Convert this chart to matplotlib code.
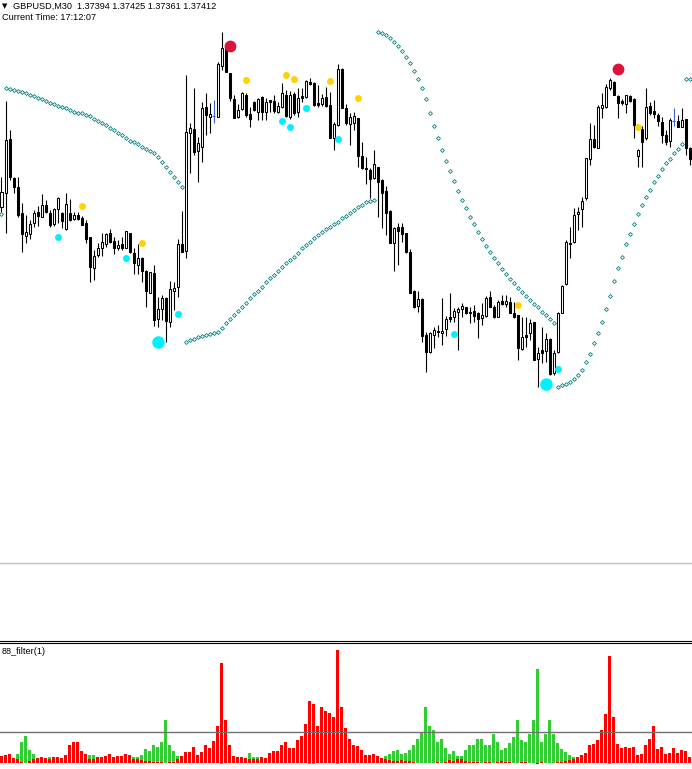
import matplotlib
matplotlib.use("Agg")
import matplotlib.pyplot as plt
from matplotlib.lines import Line2D
import numpy as np

# GBPUSD M30 candles (open, high, low, close)
opens = [1.3693, 1.3707, 1.3761, 1.3722, 1.3713, 1.3687, 1.3664, 1.3666, 1.3677, 1.3688,
         1.3683, 1.3695, 1.3687, 1.3676, 1.3691, 1.3687, 1.3671, 1.3687, 1.3681, 1.3685,
         1.3682, 1.3677, 1.3663, 1.3632, 1.3645, 1.3652, 1.3656, 1.3667, 1.3659, 1.3652,
         1.3656, 1.3652, 1.3667, 1.3647, 1.3635, 1.3642, 1.3629, 1.3607, 1.3627, 1.3581,
         1.3591, 1.3602, 1.3578, 1.3609, 1.3613, 1.3656, 1.3649, 1.3767, 1.3771, 1.3749,
         1.3753, 1.3793, 1.3783, 1.3784, 1.3783, 1.3834, 1.3852, 1.3827, 1.3801, 1.3783,
         1.3791, 1.3805, 1.3786, 1.3798, 1.3788, 1.3803, 1.3788, 1.3800, 1.3799, 1.3788,
         1.3793, 1.3805, 1.3783, 1.3806, 1.3788, 1.3804, 1.3803, 1.3818, 1.3817, 1.3797,
         1.3796, 1.3803, 1.3795, 1.3762, 1.3775, 1.3831, 1.3792, 1.3776, 1.3777, 1.3782,
         1.3744, 1.3732, 1.3730, 1.3722, 1.3733, 1.3720, 1.3709, 1.3689, 1.3657, 1.3673,
         1.3673, 1.3667, 1.3648, 1.3609, 1.3594, 1.3601, 1.3565, 1.3548, 1.3565, 1.3569,
         1.3567, 1.3571, 1.3583, 1.3583, 1.3588, 1.3591, 1.3593, 1.3588, 1.3589, 1.3587,
         1.3582, 1.3584, 1.3603, 1.3593, 1.3583, 1.3599, 1.3596, 1.3598, 1.3587, 1.3585,
         1.3551, 1.3565, 1.3567, 1.3578, 1.3541, 1.3550, 1.3549, 1.3561, 1.3527, 1.3548,
         1.3587, 1.3616, 1.3657, 1.3658, 1.3686, 1.3691, 1.3702, 1.3741, 1.3761, 1.3752,
         1.3792, 1.3793, 1.3812, 1.3818, 1.3804, 1.3799, 1.3796, 1.3804, 1.3801, 1.3744,
         1.3771, 1.3762, 1.3794, 1.3789, 1.3785, 1.3778, 1.3765, 1.3759, 1.3779, 1.3779,
         1.3773, 1.3781, 1.3752]
highs = [1.3723, 1.3799, 1.3770, 1.3723, 1.3723, 1.3697, 1.3685, 1.3680, 1.3690, 1.3694,
         1.3706, 1.3700, 1.3690, 1.3692, 1.3703, 1.3688, 1.3707, 1.3701, 1.3688, 1.3688,
         1.3684, 1.3680, 1.3663, 1.3650, 1.3657, 1.3667, 1.3667, 1.3671, 1.3663, 1.3660,
         1.3663, 1.3669, 1.3667, 1.3652, 1.3656, 1.3643, 1.3630, 1.3628, 1.3635, 1.3603,
         1.3605, 1.3603, 1.3619, 1.3618, 1.3661, 1.3689, 1.3825, 1.3777, 1.3812, 1.3763,
         1.3798, 1.3807, 1.3797, 1.3800, 1.3838, 1.3868, 1.3857, 1.3827, 1.3805, 1.3796,
         1.3808, 1.3807, 1.3793, 1.3799, 1.3802, 1.3804, 1.3802, 1.3800, 1.3805, 1.3798,
         1.3817, 1.3810, 1.3809, 1.3808, 1.3812, 1.3812, 1.3820, 1.3822, 1.3818, 1.3815,
         1.3806, 1.3813, 1.3808, 1.3778, 1.3836, 1.3832, 1.3796, 1.3787, 1.3788, 1.3782,
         1.3758, 1.3743, 1.3732, 1.3750, 1.3733, 1.3721, 1.3714, 1.3690, 1.3673, 1.3677,
         1.3677, 1.3667, 1.3651, 1.3610, 1.3609, 1.3602, 1.3568, 1.3568, 1.3573, 1.3575,
         1.3602, 1.3584, 1.3607, 1.3592, 1.3593, 1.3597, 1.3593, 1.3593, 1.3595, 1.3588,
         1.3597, 1.3604, 1.3609, 1.3595, 1.3600, 1.3605, 1.3605, 1.3603, 1.3598, 1.3585,
         1.3583, 1.3583, 1.3581, 1.3578, 1.3553, 1.3573, 1.3567, 1.3562, 1.3550, 1.3588,
         1.3615, 1.3660, 1.3673, 1.3692, 1.3693, 1.3703, 1.3742, 1.3777, 1.3775, 1.3795,
         1.3807, 1.3816, 1.3822, 1.3819, 1.3805, 1.3801, 1.3805, 1.3805, 1.3802, 1.3751,
         1.3774, 1.3812, 1.3798, 1.3800, 1.3787, 1.3783, 1.3770, 1.3782, 1.3792, 1.3785,
         1.3792, 1.3781, 1.3753]
lows = [1.3688, 1.3667, 1.3720, 1.3707, 1.3683, 1.3648, 1.3657, 1.3661, 1.3673, 1.3674,
        1.3683, 1.3687, 1.3673, 1.3674, 1.3677, 1.3672, 1.3670, 1.3679, 1.3680, 1.3680,
        1.3675, 1.3657, 1.3618, 1.3620, 1.3643, 1.3644, 1.3653, 1.3657, 1.3646, 1.3650,
        1.3650, 1.3652, 1.3647, 1.3626, 1.3626, 1.3618, 1.3593, 1.3607, 1.3574, 1.3573,
        1.3580, 1.3558, 1.3573, 1.3590, 1.3603, 1.3648, 1.3642, 1.3727, 1.3745, 1.3718,
        1.3738, 1.3765, 1.3767, 1.3777, 1.3783, 1.3830, 1.3828, 1.3799, 1.3782, 1.3782,
        1.3790, 1.3783, 1.3773, 1.3789, 1.3780, 1.3780, 1.3780, 1.3788, 1.3787, 1.3787,
        1.3792, 1.3783, 1.3781, 1.3785, 1.3783, 1.3798, 1.3802, 1.3815, 1.3794, 1.3793,
        1.3794, 1.3793, 1.3762, 1.3750, 1.3774, 1.3792, 1.3775, 1.3755, 1.3770, 1.3733,
        1.3731, 1.3716, 1.3702, 1.3721, 1.3683, 1.3672, 1.3665, 1.3657, 1.3629, 1.3635,
        1.3658, 1.3647, 1.3607, 1.3592, 1.3588, 1.3558, 1.3528, 1.3547, 1.3552, 1.3563,
        1.3555, 1.3564, 1.3578, 1.3578, 1.3550, 1.3583, 1.3586, 1.3577, 1.3578, 1.3562,
        1.3575, 1.3583, 1.3593, 1.3582, 1.3583, 1.3595, 1.3593, 1.3587, 1.3582, 1.3540,
        1.3550, 1.3553, 1.3560, 1.3540, 1.3513, 1.3537, 1.3538, 1.3525, 1.3525, 1.3547,
        1.3587, 1.3615, 1.3642, 1.3657, 1.3670, 1.3673, 1.3700, 1.3735, 1.3752, 1.3752,
        1.3782, 1.3792, 1.3810, 1.3805, 1.3782, 1.3795, 1.3787, 1.3798, 1.3762, 1.3733,
        1.3733, 1.3760, 1.3785, 1.3782, 1.3774, 1.3757, 1.3755, 1.3753, 1.3774, 1.3773,
        1.3773, 1.3745, 1.3735]
closes = [1.3708, 1.3760, 1.3723, 1.3713, 1.3685, 1.3666, 1.3668, 1.3676, 1.3687, 1.3684,
          1.3695, 1.3688, 1.3675, 1.3691, 1.3702, 1.3679, 1.3696, 1.3680, 1.3685, 1.3681,
          1.3675, 1.3661, 1.3633, 1.3644, 1.3652, 1.3658, 1.3666, 1.3658, 1.3652, 1.3655,
          1.3652, 1.3669, 1.3648, 1.3637, 1.3642, 1.3629, 1.3609, 1.3628, 1.3580, 1.3591,
          1.3602, 1.3579, 1.3611, 1.3612, 1.3656, 1.3648, 1.3768, 1.3772, 1.3748, 1.3757,
          1.3792, 1.3785, 1.3786, 1.3784, 1.3836, 1.3852, 1.3828, 1.3802, 1.3782, 1.3790,
          1.3807, 1.3785, 1.3781, 1.3790, 1.3801, 1.3788, 1.3798, 1.3798, 1.3789, 1.3794,
          1.3807, 1.3784, 1.3805, 1.3787, 1.3802, 1.3802, 1.3819, 1.3816, 1.3795, 1.3795,
          1.3802, 1.3794, 1.3762, 1.3776, 1.3831, 1.3792, 1.3777, 1.3783, 1.3784, 1.3744,
          1.3732, 1.3731, 1.3721, 1.3736, 1.3718, 1.3707, 1.3687, 1.3657, 1.3672, 1.3669,
          1.3666, 1.3648, 1.3607, 1.3593, 1.3601, 1.3564, 1.3548, 1.3567, 1.3570, 1.3568,
          1.3569, 1.3581, 1.3581, 1.3589, 1.3591, 1.3594, 1.3587, 1.3587, 1.3584, 1.3581,
          1.3585, 1.3602, 1.3593, 1.3583, 1.3598, 1.3596, 1.3599, 1.3587, 1.3583, 1.3552,
          1.3563, 1.3563, 1.3577, 1.3540, 1.3547, 1.3547, 1.3561, 1.3526, 1.3547, 1.3587,
          1.3614, 1.3658, 1.3656, 1.3685, 1.3688, 1.3699, 1.3742, 1.3761, 1.3753, 1.3793,
          1.3795, 1.3813, 1.3820, 1.3805, 1.3797, 1.3797, 1.3805, 1.3799, 1.3775, 1.3750,
          1.3758, 1.3793, 1.3787, 1.3786, 1.3779, 1.3765, 1.3758, 1.3780, 1.3779, 1.3773,
          1.3780, 1.3752, 1.3741]

# parabolic SAR style dots (one per bar)
sar = [1.3686,
       1.3812, 1.3811, 1.3810, 1.3809, 1.3808, 1.3807, 1.3805, 1.3804, 1.3802, 1.3801,
       1.3799, 1.3797, 1.3796, 1.3794, 1.3793, 1.3792, 1.3790, 1.3788, 1.3787, 1.3787,
       1.3785, 1.3784, 1.3781, 1.3779, 1.3777, 1.3775, 1.3772, 1.3770, 1.3767, 1.3765,
       1.3762, 1.3759, 1.3758, 1.3756, 1.3753, 1.3751, 1.3749, 1.3747, 1.3743, 1.3738,
       1.3733, 1.3728, 1.3723, 1.3718, 1.3713,
       1.3558, 1.3560, 1.3561, 1.3563, 1.3564, 1.3565, 1.3566, 1.3567, 1.3568, 1.3572,
       1.3577, 1.3581, 1.3585, 1.3589, 1.3593, 1.3597, 1.3602, 1.3606, 1.3609, 1.3613,
       1.3618, 1.3622, 1.3625, 1.3629, 1.3633, 1.3637, 1.3640, 1.3643, 1.3647, 1.3652,
       1.3655, 1.3658, 1.3662, 1.3665, 1.3668, 1.3671, 1.3673, 1.3676, 1.3678, 1.3682,
       1.3684, 1.3687, 1.3690, 1.3693, 1.3695, 1.3698, 1.3699, 1.3700,
       1.3868, 1.3867, 1.3865, 1.3862, 1.3858, 1.3854, 1.3849, 1.3843, 1.3837, 1.3829,
       1.3821, 1.3812, 1.3801, 1.3787, 1.3774, 1.3762, 1.3750, 1.3739, 1.3729, 1.3719,
       1.3709, 1.3700, 1.3692, 1.3683, 1.3676, 1.3668, 1.3661, 1.3654, 1.3648, 1.3642,
       1.3637, 1.3631, 1.3626, 1.3621, 1.3617, 1.3612, 1.3608, 1.3604, 1.3600, 1.3596,
       1.3593, 1.3588, 1.3585, 1.3581, 1.3577,
       1.3513, 1.3515, 1.3516, 1.3518, 1.3521, 1.3525, 1.3530, 1.3538, 1.3546, 1.3557,
       1.3567, 1.3578, 1.3591, 1.3604, 1.3619, 1.3632, 1.3643, 1.3656, 1.3666, 1.3676,
       1.3686, 1.3695, 1.3703, 1.3710, 1.3718, 1.3724, 1.3731, 1.3737, 1.3741, 1.3747,
       1.3751, 1.3756,
       1.3821, 1.3821]

# signal dots: bar index + price
small_cyan_idx = [14, 31, 44, 70, 72, 76, 84, 113, 139]
small_cyan_val = [1.3663, 1.3642, 1.3586, 1.3779, 1.3773, 1.3792, 1.3761, 1.3566, 1.3531]
yellow_idx = [20, 35, 61, 71, 73, 82, 89, 129, 159]
yellow_val = [1.3694, 1.3657, 1.3820, 1.3825, 1.3821, 1.3819, 1.3802, 1.3595, 1.3773]
red_idx = [57, 154]
red_val = [1.3854, 1.3831]
big_cyan_idx = [39, 136]
big_cyan_val = [1.3558, 1.3516]

hline_price = 1.3337

# 88_filter histogram (two buffers)
red_hist = [23, 25, 29, 16, 12, 4, 2, 8, 12, 16, 19, 16, 13, 19, 19, 16, 25, 55, 64, 64,
            37, 29, 12, 12, 19, 19, 22, 29, 20, 22, 22, 28, 25, 13, 13, 10, 8, 8, 4, 4,
            4, 2, 4, 5, 14, 22, 34, 34, 49, 25, 34, 55, 46, 67, 112, 302, 130, 55, 22, 18,
            19, 16, 13, 13, 13, 19, 16, 31, 37, 37, 55, 64, 46, 46, 70, 82, 118, 187, 178, 112,
            169, 157, 151, 139, 340, 169, 106, 73, 55, 52, 40, 25, 25, 28, 22, 16, 13, 10, 7, 7,
            10, 7, 7, 4, 1, 1, 1, 1, 1, 4, 1, 4, 10, 7, 13, 13, 7, 4, 4, 4,
            1, 4, 4, 1, 4, 7, 4, 4, 1, 1, 4, 4, 1, 1, -2, 4, 1, 1, 1, 4,
            4, 7, 10, 13, 19, 25, 31, 55, 58, 70, 100, 148, 322, 139, 58, 46, 49, 46, 49, 25,
            28, 55, 73, 112, 43, 49, 28, 31, 46, 31, 40, 37, 19]
green_hist = [0, 0, 0, 0, 28, 65, 82, 41, 28, 0, 0, 0, 19, 0, 0, 0, 0, 0, 0, 0,
              0, 0, 25, 25, 0, 0, 0, 0, 0, 0, 0, 0, 0, 19, 19, 25, 44, 37, 54, 49,
              64, 130, 54, 37, 22, 0, 0, 0, 0, 0, 0, 0, 0, 0, 0, -3, 0, 0, 0, 0,
              0, 0, 31, 19, 19, 0, 0, 0, 0, 0, 0, 0, 0, 0, 0, 0, 0, -3, -3, 0,
              0, 0, 0, 0, -3, 0, 0, 0, 0, 0, 0, 0, 0, 0, 0, 0, 22, 28, 37, 40,
              28, 31, 40, 55, 73, 91, 169, 112, 100, 64, 73, 46, 28, 37, 22, 22, 40, 55, 55, 73,
              73, 55, 55, 88, 64, 40, 46, 61, 79, 130, 70, 64, 88, 130, 283, 64, 88, 130, 88, 61,
              43, 34, 25, 19, 0, 0, 0, 0, 0, 0, 0, 0, -3, 0, 0, 0, 0, 0, 0, 0,
              0, 0, 0, 0, 0, 0, 0, 0, 0, 0, 0, 0, 0]
hist_level = 93

W, H = 692, 769
fig = plt.figure(figsize=(W / 100, H / 100), dpi=100)
fig.patch.set_facecolor("white")

# main price window: rows 0..640
ax = fig.add_axes([0, 129 / H, 1, 640 / H])
ax.set_xlim(-0.375, 172.625)
ax.set_ylim(1.3260, 1.3900)
ax.set_axis_off()

o = np.array(opens)
h = np.array(highs)
l = np.array(lows)
c = np.array(closes)
x = np.arange(len(o))

doji = o == c
ax.vlines(x[~doji], l[~doji], h[~doji], color="black", lw=0.8, zorder=2)
bull = (c > o)
bear = (c < o)
ax.bar(x[bull], (c - o)[bull], bottom=o[bull], width=0.5, color="white",
       edgecolor="black", lw=0.75, zorder=3)
ax.bar(x[bear], (o - c)[bear], bottom=c[bear], width=0.5, color="black",
       edgecolor="black", lw=0.75, zorder=3)
# doji bars are drawn blue as a small cross
ax.vlines(x[doji], l[doji], h[doji], color="#3a5fd8", lw=0.8, zorder=3)
ax.hlines(o[doji], x[doji] - 0.3, x[doji] + 0.3, color="#3a5fd8", lw=0.8, zorder=3)

ax.plot(x, sar, ls="none", marker="D", ms=2.0, mfc="none", mec="#008080", mew=0.6, zorder=2)

ax.plot(small_cyan_idx, small_cyan_val, ls="none", marker="o", ms=5, color="#00f0ff", mew=0, zorder=5)
ax.plot(yellow_idx, yellow_val, ls="none", marker="o", ms=5, color="#ffd200", mew=0, zorder=5)
ax.plot(big_cyan_idx, big_cyan_val, ls="none", marker="o", ms=9, color="#00f0ff", mew=0, zorder=5)
ax.plot(red_idx, red_val, ls="none", marker="o", ms=8.5, color="#dc143c", mew=0, zorder=5)

ax.axhline(hline_price, color="#c0c0c0", lw=1.0)

fnt = ["Liberation Sans", "DejaVu Sans"]
fig.text(2 / W, 1 - 6 / H, "\u25bc", family="DejaVu Sans", fontsize=5, va="center", ha="left")
fig.text(13 / W, 1 - 6 / H, "GBPUSD,M30  1.37394 1.37425 1.37361 1.37412",
         family=fnt, fontsize=6.6, va="center", ha="left")
fig.text(2 / W, 1 - 18 / H, "Current Time: 17:12:07",
         family=fnt, fontsize=6.6, va="center", ha="left")

# window separator (double line)
for yy in (641.2, 643.2):
    fig.add_artist(Line2D([0, 1], [1 - yy / H, 1 - yy / H], transform=fig.transFigure,
                          color="black", lw=0.8))

# indicator sub-window
ax2 = fig.add_axes([0, 0, 1, 124 / H])
ax2.set_xlim(-0.375, 172.625)
ax2.set_ylim(-17, 355)
ax2.set_axis_off()
hx = np.arange(len(red_hist))
ax2.bar(hx, green_hist, width=0.75, color="#32cd32", lw=0, zorder=2)
ax2.bar(hx, red_hist, width=0.75, color="#ff0000", lw=0, zorder=3)
ax2.axhline(hist_level, color="#707070", lw=1.0, zorder=4)
fig.text(2 / W, 1 - 652 / H, "88_filter(1)", family=fnt, fontsize=6.6, va="center", ha="left")

fig.savefig("out.png", dpi=100, facecolor="white")
